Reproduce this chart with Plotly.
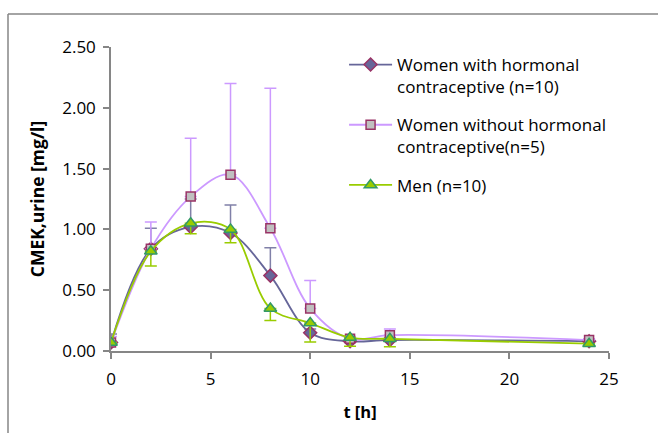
import plotly.graph_objects as go

t = [0, 2, 4, 6, 8, 10, 12, 14, 24]

women_hc = [0.07, 0.84, 1.02, 0.97, 0.62, 0.15, 0.08, 0.09, 0.08]
women_hc_plus = [0.07, 0.17, 0.23, 0.23, 0.23, 0.03, 0.02, 0.02, 0.01]

women_nohc = [0.07, 0.84, 1.27, 1.45, 1.01, 0.35, 0.10, 0.13, 0.09]
women_nohc_plus = [0.05, 0.22, 0.48, 0.75, 1.15, 0.23, 0.02, 0.05, 0.01]

men = [0.07, 0.82, 1.05, 1.00, 0.35, 0.23, 0.11, 0.10, 0.06]
men_minus = [0.01, 0.12, 0.085, 0.11, 0.10, 0.155, 0.07, 0.065, 0.02]

zeros = [0] * len(t)

names = [
    "Women with hormonal<br>contraceptive (n=10)",
    "Women without hormonal<br>contraceptive(n=5)",
    "Men (n=10)",
]

FONT = "Open Sans"

fig = go.Figure()

fig.add_trace(go.Scatter(
    x=t, y=women_hc, name=names[0], mode="lines+markers",
    line=dict(color="#666699", width=1.8, shape="spline", smoothing=1.0),
    marker=dict(symbol="diamond", size=10, color="#666699",
                line=dict(color="#993366", width=1.5)),
    error_y=dict(type="data", symmetric=False, array=women_hc_plus,
                 arrayminus=zeros, color="#8080A8", thickness=1.5, width=6),
    legendgroup="a",
))
fig.add_trace(go.Scatter(
    x=t, y=women_nohc, name=names[1], mode="lines+markers",
    line=dict(color="#CC99FF", width=1.8, shape="spline", smoothing=1.0),
    marker=dict(symbol="square", size=9, color="#C0C0C0",
                line=dict(color="#993366", width=1.5)),
    error_y=dict(type="data", symmetric=False, array=women_nohc_plus,
                 arrayminus=zeros, color="#CC99FF", thickness=1.5, width=6),
    legendgroup="b",
))
fig.add_trace(go.Scatter(
    x=t, y=men, name=names[2], mode="lines+markers",
    line=dict(color="#99CC00", width=1.8, shape="spline", smoothing=1.0),
    marker=dict(symbol="triangle-up", size=11, color="#99CC00",
                line=dict(color="#339966", width=1.5)),
    error_y=dict(type="data", symmetric=False, array=zeros,
                 arrayminus=men_minus, color="#99CC00", thickness=1.5, width=6),
    legendgroup="c",
))

fig.update_layout(
    width=658, height=433,
    margin=dict(l=111, r=49, t=47, b=82),
    paper_bgcolor="white", plot_bgcolor="white",
    font=dict(family=FONT, size=16, color="black"),
    showlegend=True,
    legend=dict(
        x=0.468, y=1.0, xanchor="left", yanchor="top",
        valign="top", itemwidth=43, tracegroupgap=13,
        font=dict(family=FONT, size=17, color="black"),
        bgcolor="rgba(0,0,0,0)",
    ),
    xaxis=dict(
        range=[0, 25], dtick=5, tick0=0, showgrid=False, zeroline=False,
        showline=True, linecolor="#868686", linewidth=1.5,
        ticks="outside", ticklen=6, tickcolor="#868686", tickwidth=1.5,
        tickfont=dict(family=FONT, size=17), ticklabelstandoff=6,
        title=dict(text="<b>t [h]</b>", font=dict(family=FONT, size=16.5), standoff=17),
    ),
    yaxis=dict(
        range=[0, 2.5], dtick=0.5, tick0=0, tickformat=".2f",
        showgrid=False, zeroline=False,
        showline=True, linecolor="#868686", linewidth=1.5,
        ticks="outside", ticklen=6, tickcolor="#868686", tickwidth=1.5,
        tickfont=dict(family=FONT, size=17), ticklabelstandoff=4,
        title=dict(text="<b>CMEK,urine [mg/l]</b>", font=dict(family=FONT, size=17.5), standoff=13),
    ),
    shapes=[
        dict(type="line", xref="paper", yref="paper",
             x0=(8 - 111) / 498, x1=1.2, y0=(351 - 14) / 304, y1=(351 - 14) / 304,
             line=dict(color="#868686", width=1.5)),
        dict(type="line", xref="paper", yref="paper",
             x0=(8 - 111) / 498, x1=(8 - 111) / 498, y0=(351 - 14) / 304, y1=-0.5,
             line=dict(color="#868686", width=1.5)),
    ],
)

fig.write_html("out.html")
